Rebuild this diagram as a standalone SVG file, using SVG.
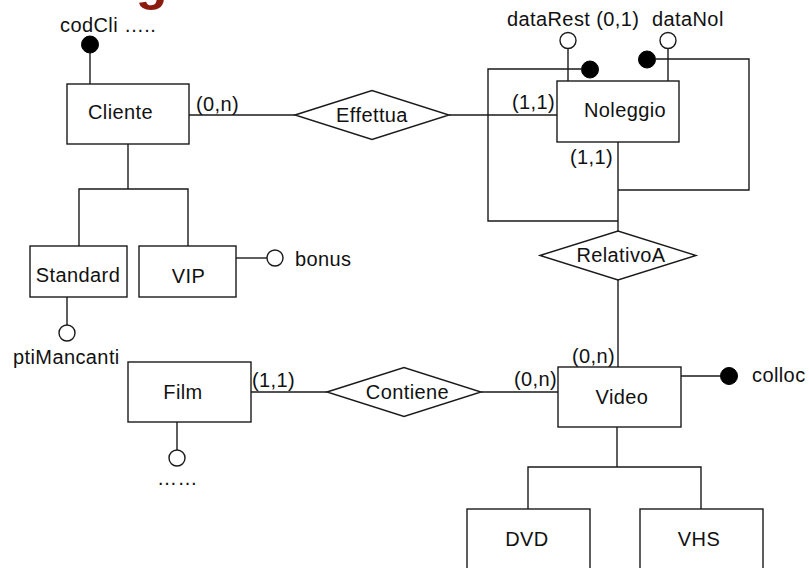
<svg xmlns="http://www.w3.org/2000/svg" width="809" height="568" viewBox="0 0 809 568">
<style>
  .ent { fill: #ffffff; stroke: #1a1a1a; stroke-width: 1.4; }
  .rel { fill: #ffffff; stroke: #1a1a1a; stroke-width: 1.4; }
  .ln { fill: none; stroke: #1a1a1a; stroke-width: 1.4; }
  .att { fill: #ffffff; stroke: #1a1a1a; stroke-width: 1.4; }
  .key { fill: #000000; stroke: #000000; stroke-width: 1; }
  text { font-family: "Liberation Sans", Arial, Helvetica, sans-serif; font-size: 20px; fill: #111111; letter-spacing: 0.4px; }
  .mid { text-anchor: middle; }
  .title { font-size: 52px; font-weight: bold; fill: #8b1a0f; letter-spacing: 0; }
</style>
<rect width="809" height="568" fill="#ffffff"/>
<text class="title" x="49" y="-1.5">Progettazione</text>

<g id="connectors">
  <path class="ln" d="M189,115 H295"/>
  <path class="ln" d="M449,115 H557"/>
  <path class="ln" d="M618,142 V231"/>
  <path class="ln" d="M618,280 V367"/>
  <path class="ln" d="M251,392 H327"/>
  <path class="ln" d="M481,392 H558"/>
  <path class="ln" d="M128,144 V189"/>
  <path class="ln" d="M79,246 V189 H188 V246"/>
  <path class="ln" d="M617,427 V467"/>
  <path class="ln" d="M528,509 V467 H701 V509"/>
  <path class="ln" d="M581,69 H488 V221 H618"/>
  <path class="ln" d="M656,59 H749 V190 H618"/>
  <text x="196" y="111">(0,n)</text>
  <text x="512" y="109">(1,1)</text>
  <text x="570" y="164">(1,1)</text>
  <text x="252" y="387">(1,1)</text>
  <text x="514" y="386">(0,n)</text>
  <text x="572" y="363">(0,n)</text>
</g>

<g id="attr-codCli">
  <path class="ln" d="M90,53 V84"/>
  <circle class="key" cx="90" cy="44.5" r="8.5"/>
  <text x="60" y="32">codCli …..</text>
</g>
<g id="attr-dataRest">
  <path class="ln" d="M568,48.5 V81"/>
  <circle class="att" cx="568" cy="40.5" r="8"/>
  <text x="507" y="26">dataRest (0,1)</text>
</g>
<g id="attr-dataNol">
  <path class="ln" d="M668,48.5 V81"/>
  <circle class="att" cx="668" cy="40.5" r="8"/>
  <text x="652" y="26">dataNol</text>
</g>
<g id="id-noleggio">
  <circle class="key" cx="590" cy="69.5" r="8.5"/>
  <circle class="key" cx="647" cy="59.5" r="8.5"/>
</g>
<g id="attr-bonus">
  <path class="ln" d="M236,258 H267"/>
  <circle class="att" cx="275" cy="258" r="8"/>
  <text x="295" y="266">bonus</text>
</g>
<g id="attr-ptiMancanti">
  <path class="ln" d="M67,297 V325"/>
  <circle class="att" cx="67" cy="333" r="8"/>
  <text x="13" y="364">ptiMancanti</text>
</g>
<g id="attr-film">
  <path class="ln" d="M177,422 V450"/>
  <circle class="att" cx="177" cy="458" r="8"/>
  <text x="157" y="485">……</text>
</g>
<g id="attr-colloc">
  <path class="ln" d="M681,376 H720"/>
  <circle class="key" cx="729" cy="376" r="8.5"/>
  <text x="752" y="382">colloc</text>
</g>

<g id="Cliente">
  <rect class="ent" x="67" y="84" width="122" height="60"/>
  <text class="mid" x="120.5" y="119">Cliente</text>
</g>
<g id="Standard">
  <rect class="ent" x="30" y="246" width="97" height="51"/>
  <text class="mid" x="78" y="282">Standard</text>
</g>
<g id="VIP">
  <rect class="ent" x="139" y="246" width="97" height="51"/>
  <text class="mid" x="188.5" y="283">VIP</text>
</g>
<g id="Effettua">
  <polygon class="rel" points="295,115 372,90.5 449,115 372,139.5"/>
  <text class="mid" x="372" y="122">Effettua</text>
</g>
<g id="Noleggio">
  <rect class="ent" x="557" y="81" width="122" height="61"/>
  <text class="mid" x="625" y="117">Noleggio</text>
</g>
<g id="RelativoA">
  <polygon class="rel" points="540,255.5 618,231 696,255.5 618,280"/>
  <text class="mid" x="621" y="262">RelativoA</text>
</g>
<g id="Film">
  <rect class="ent" x="128" y="362" width="123" height="60"/>
  <text class="mid" x="183" y="399">Film</text>
</g>
<g id="Contiene">
  <polygon class="rel" points="327,392 404,367.5 481,392 404,416.5"/>
  <text class="mid" x="407.5" y="399">Contiene</text>
</g>
<g id="Video">
  <rect class="ent" x="558" y="367" width="123" height="60"/>
  <text class="mid" x="622" y="404">Video</text>
</g>
<g id="DVD">
  <rect class="ent" x="467" y="509" width="123" height="70"/>
  <text class="mid" x="527" y="546">DVD</text>
</g>
<g id="VHS">
  <rect class="ent" x="640" y="509" width="123" height="70"/>
  <text class="mid" x="699" y="546">VHS</text>
</g>
</svg>
